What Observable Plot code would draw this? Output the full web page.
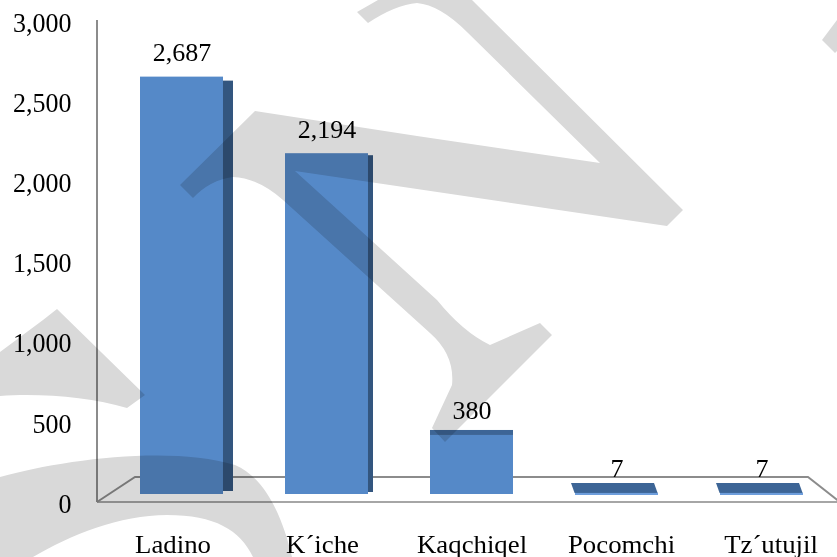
<!DOCTYPE html>
<html>
<head>
<meta charset="utf-8">
<script src="https://cdn.jsdelivr.net/npm/d3@7"></script>
<script src="https://cdn.jsdelivr.net/npm/@observablehq/plot@0.6"></script>
<style>
  html, body { margin: 0; padding: 0; background: #fff; }
  svg { display: block; }
</style>
</head>
<body>
<div id="chart"></div>
<script>
const categories = ["Ladino", "K´iche", "Kaqchiqel", "Pocomchi", "Tz´utujil"];
const values = [2687, 2194, 380, 7, 7];
const yTicks = [0, 500, 1000, 1500, 2000, 2500, 3000];

const data = categories.map((c, i) => ({cat: c, value: values[i]}));
const fmt = d3.format(",");

const padIn = 0.4276;
const bw = 145 * (1 - padIn);

const frontColor = "#5589c8";
const sideColor = "#33567f";
const topColor = "#3d6596";
const FS = 26;

const chart = Plot.plot({
  width: 837,
  height: 557,
  margin: 0,
  style: {fontFamily: "'Liberation Serif', 'Times New Roman', serif", fontSize: "26px", background: "#fff", color: "#000"},
  x: {type: "band", domain: categories, range: [108.5, 833.5], paddingInner: padIn, paddingOuter: padIn / 2, axis: null},
  y: {domain: [0, 3000], range: [494, 28], axis: null},
  marks: [
    Plot.barY(data, {x: "cat", y: "value", fill: frontColor}),
    Plot.barY(data.filter(d => d.cat === "Ladino"), {x: "cat", y: "value", fill: sideColor, insetLeft: bw, insetRight: -10, insetTop: 4, insetBottom: 3}),
    Plot.barY(data.filter(d => d.cat === "K´iche"), {x: "cat", y: "value", fill: sideColor, insetLeft: bw, insetRight: -5, insetTop: 2, insetBottom: 2}),
    Plot.barY(data.filter(d => d.cat === "Kaqchiqel"), {x: "cat", y1: "value", y2: "value", fill: topColor, insetTop: -5}),
    Plot.barY(data.filter(d => d.value < 50), {x: "cat", y1: "value", y2: "value", fill: topColor, insetTop: -10, insetBottom: 0, className: "flattop"}),
    Plot.barY(data.filter(d => d.value < 50), {x: "cat", y1: 0, y2: "value", fill: "#6e9edc", insetBottom: -1}),
    Plot.text(data, {x: "cat", y: "value", text: d => fmt(d.value), dy: -16, lineAnchor: "bottom", fill: "#000", fontSize: FS}),
    Plot.text(yTicks, {y: d => d, text: d => fmt(d), frameAnchor: "left", dx: 71, textAnchor: "end", lineAnchor: "middle", fill: "#000", fontSize: FS, className: "ylab"}),
    Plot.text(categories, {x: d => d, frameAnchor: "bottom", dy: -5, lineAnchor: "bottom", fill: "#000", fontSize: FS, className: "xlab"})
  ]
});

document.getElementById("chart").appendChild(chart);

const svg = d3.select(chart);
const yS = chart.scale("y");
const y0 = yS.apply(0);

function prependTransform(sel, m) {
  sel.each(function() {
    const prev = this.getAttribute("transform") || "";
    this.setAttribute("transform", `${m} ${prev}`.trim());
  });
}
const ky = 1.0311;
prependTransform(svg.selectAll("g.ylab"), `matrix(1,0,0,${ky},0,${(503.5 - y0 * ky).toFixed(2)})`);
const kx = 1.031;
prependTransform(svg.selectAll("g.xlab"), `matrix(${kx},0,0,1,${(-471 * (kx - 1)).toFixed(2)},0)`);
// slight perspective skew of the flat bar tops
const c = 0.36;
prependTransform(svg.selectAll("g.flattop"), `matrix(1,0,${c},1,${(-c * y0).toFixed(2)},0)`);

const frame = svg.insert("g", "g").attr("fill", "none").attr("stroke", "#8c8c8c").attr("stroke-width", 2);
frame.append("line").attr("x1", 97).attr("x2", 97).attr("y1", 20).attr("y2", y0 + 8);
frame.append("line").attr("x1", 97).attr("x2", 840).attr("y1", y0 + 8).attr("y2", y0 + 8).attr("stroke", "#a6a6a6");
frame.append("polyline").attr("points", `97,${y0 + 8} 135,${y0 - 17} 808,${y0 - 17} 840,${y0 + 8}`);

const wm = svg.append("g").attr("fill", "#d9d9d9").style("mix-blend-mode", "multiply");
wm.append("path").attr("d",
  "M255,111 L417,136 L600,163 L467,32 Q440,5 417,3 Q395,5 368,23 L357,12 L378,0 L472,0 " +
  "L683,210 L667,226 L417,189 L295,171 L437,300 Q463,332 490,345 L540,323 L552,335 L445,442 L432,428 " +
  "L452,385 Q455,355 430,333 L283,200 Q258,178 233,177 Q210,180 193,198 L180,185 Z");
wm.append("path").attr("d", "M0,352 L43,320 L57,309 L145,395 L127,408 C90,397 40,393 0,396 Z");
wm.append("path").attr("d", "M0,477 C60,460 170,445 235,465 C265,478 282,515 292,557 L253,557 C240,530 215,515 167,515 C120,515 70,535 33,557 L0,557 Z");
wm.append("path").attr("d", "M837,20 L822,40 L835,53 L837,51 Z");
</script>
</body>
</html>
